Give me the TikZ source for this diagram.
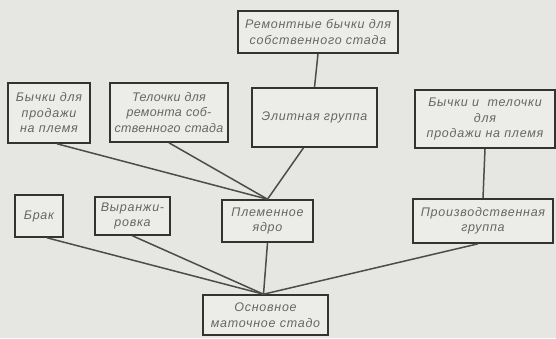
\documentclass[tikz,border=0pt]{standalone}
\usepackage{fontspec}
\setmainfont{Liberation Sans}[LetterSpace=6]
\usetikzlibrary{calc}

\definecolor{papir}{RGB}{230,230,226}
\tikzset{
	blok/.style={draw=black!80,line width=1.6pt,fill=white!25!papir,inner sep=2pt,align=center,
		font=\fontsize{12.5}{15.5}\selectfont\itshape,text=black!60},
	vez/.style={draw=black!70,line width=1.5pt}
}

\begin{document}
\begin{tikzpicture}[x=1pt,y=-1pt]
	\fill[papir](0,0) rectangle (556,338);
	\useasboundingbox(0,0) rectangle (556,338);
	% gornji red
	\node[blok,minimum width=160,minimum height=42](remb) at (318,32) {Ремонтные бычки для\\собственного стада};
	\node[blok,minimum width=82,minimum height=60](byk) at (49,113) {Бычки для\\продажи\\на племя};
	\node[blok,minimum width=118,minimum height=59,text width=112](tel) at (169,112.5) {\addfontfeature{LetterSpace=2.5}Телочки для\\ремонта соб-\\ственного стада};
	\node[blok,minimum width=125,minimum height=59](elit) at (314.5,117.5) {Элитная группа};
	\node[blok,minimum width=140,minimum height=58](bt) at (485,119) {Бычки и\ \ телочки\\для\\продажи на племя};
	% donji red
	\node[blok,minimum width=48,minimum height=42](brak) at (39,216) {Брак};
	\node[blok,minimum width=75,minimum height=38](vyr) at (132.5,216) {Выранжи-\\ровка};
	\node[blok,minimum width=91,minimum height=42](plem) at (267.5,221) {Племенное\\ядро};
	\node[blok,minimum width=140,minimum height=44](proizv) at (483,221) {Производственная\\группа};
	\node[blok,minimum width=125,minimum height=40](osn) at (265.5,315) {Основное\\маточное стадо};
	% veze
	\draw[vez](remb.south)--(elit.north);
	\draw[vez](bt.south)--(proizv.north);
	\draw[vez]($(byk.south)+(8,0)$)--(plem.north);
	\draw[vez](tel.south)--(plem.north);
	\draw[vez]($(elit.south)+(-11,0)$)--(plem.north);
	\draw[vez]($(brak.south)+(8,0)$)--($(osn.north)+(-2,0)$);
	\draw[vez](vyr.south)--($(osn.north)+(-2,0)$);
	\draw[vez](plem.south)--($(osn.north)+(-2,0)$);
	\draw[vez]($(proizv.south)+(-5,0)$)--($(osn.north)+(-2,0)$);
\end{tikzpicture}
\end{document}
